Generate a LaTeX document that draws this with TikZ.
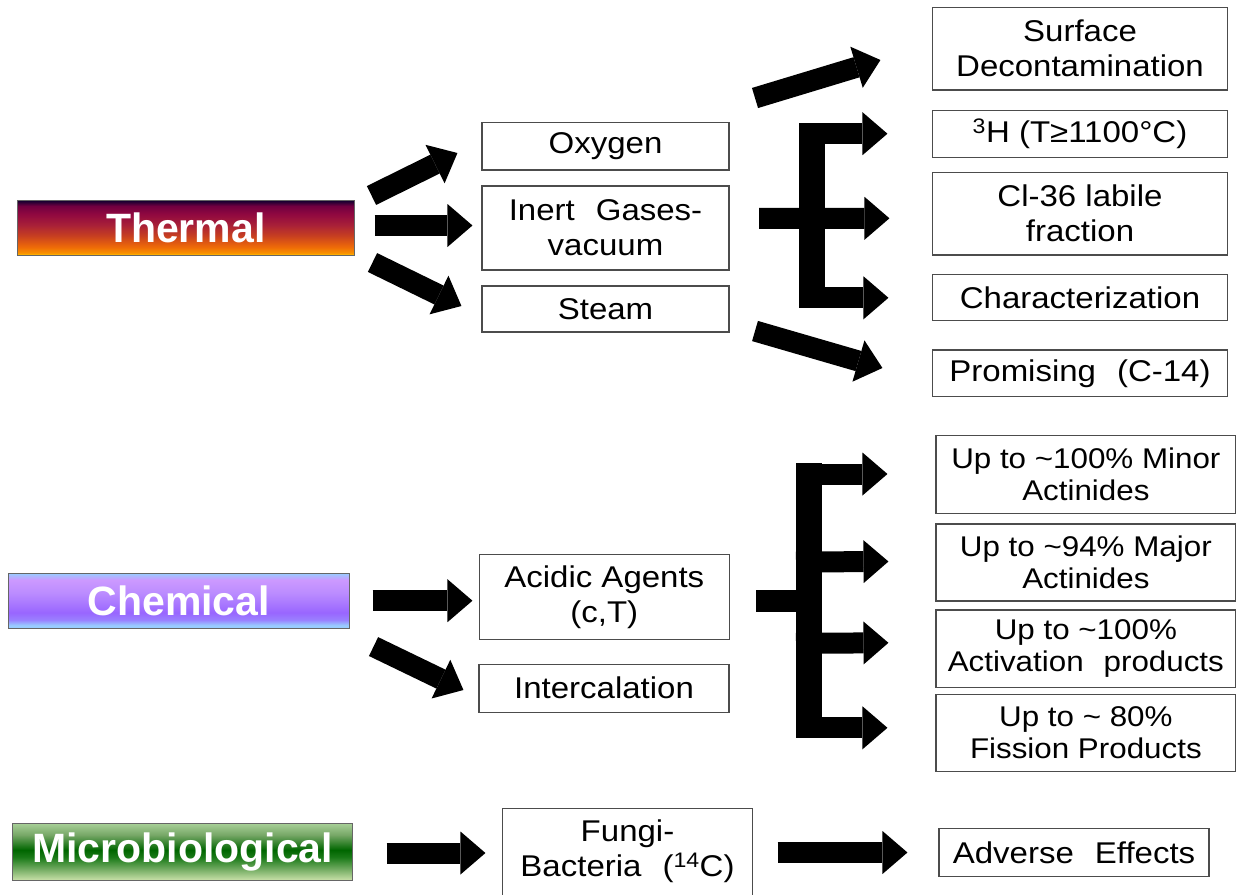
\documentclass[tikz,border=0pt]{standalone}
\usepackage{fontspec}
\setmainfont{Liberation Sans}[FakeStretch=1.1]
\newfontfamily\lblfont{Liberation Sans}
\usetikzlibrary{arrows.meta}

\definecolor{thA}{HTML}{FFC000}
\definecolor{thB}{HTML}{F89000}
\definecolor{thC}{HTML}{EE6A08}
\definecolor{thD}{HTML}{C84020}
\definecolor{thE}{HTML}{A82038}
\definecolor{thF}{HTML}{900840}
\definecolor{thG}{HTML}{700040}
\definecolor{thH}{HTML}{100030}
\pgfdeclareverticalshading{thermalsh}{100bp}{color(0bp)=(thA); color(25bp)=(thA); color(27bp)=(thB); color(32.5bp)=(thC); color(42.5bp)=(thD); color(52.5bp)=(thE); color(62.5bp)=(thF); color(70bp)=(thG); color(75bp)=(thH); color(100bp)=(thH)}

\definecolor{chA}{HTML}{99CCFF}
\definecolor{chB}{HTML}{9A80FF}
\definecolor{chC}{HTML}{9966FF}
\definecolor{chD}{HTML}{BB8CFF}
\definecolor{chE}{HTML}{CC99FF}
\pgfdeclareverticalshading{chemsh}{100bp}{color(0bp)=(chA); color(27.5bp)=(chA); color(32.5bp)=(chB); color(39bp)=(chC); color(57bp)=(chD); color(69bp)=(chE); color(75bp)=(chA); color(100bp)=(chA)}

\definecolor{miA}{HTML}{C8E0A8}
\definecolor{miB}{HTML}{70AA60}
\definecolor{miC}{HTML}{1A7A18}
\definecolor{miD}{HTML}{006600}
\definecolor{miE}{HTML}{78A868}
\definecolor{miF}{HTML}{A8D098}
\pgfdeclareverticalshading{microsh}{100bp}{color(0bp)=(miA); color(25bp)=(miA); color(35bp)=(miB); color(45bp)=(miC); color(51.5bp)=(miD); color(65bp)=(miE); color(75bp)=(miF); color(100bp)=(miF)}

\newcommand\ws{\hspace{0.7em}}

\tikzset{
  boxline/.style={draw=black!70, line width=1.1pt},
  box/.style={boxline, fill=white, inner sep=0pt, align=center,
    font=\fontsize{30}{35}\selectfont},
  smallbox/.style={box, font=\fontsize{28.5}{32}\selectfont},
  cat/.style={draw=black!60, line width=1pt, inner sep=0pt, text=white,
    font=\lblfont\bfseries\fontsize{41}{41}\selectfont},
  fat/.style={line width=21pt, -{Triangle[width=43pt,length=25pt,line width=0pt]}},
  bar/.style={line width=25.7pt},
}

\begin{document}
\begin{tikzpicture}[x=1pt, y=-1pt]
\useasboundingbox (0,0) rectangle (1238,894);

% category boxes
\node[cat, shading=thermalsh, minimum width=336.5pt, minimum height=54.5pt] (thermal) at (185.75,227.75) {Thermal};
\node[cat, shading=chemsh, minimum width=340.7pt, minimum height=54.7pt] (chemical) at (178.7,600.7) {Chemical};
\node[cat, shading=microsh, minimum width=340pt, minimum height=56.7pt] (micro) at (182.7,851.7) {Microbiological};

% middle column
\node[box, minimum width=247pt, minimum height=47.3pt] (oxy) at (605.5,146.35) {Oxygen};
\node[box, minimum width=247pt, minimum height=84pt] (inert) at (605.5,228) {Inert\ws Gases-\\vacuum};
\node[box, minimum width=247pt, minimum height=46pt] (steam) at (605.5,309) {Steam};
\node[box, minimum width=250pt, minimum height=85pt] (acid) at (604.3,596.8) {Acidic Agents\\(c,T)};
\node[box, minimum width=250pt, minimum height=48.3pt] (inter) at (604,688.2) {Intercalation};
\node[box, draw=none, minimum width=249.6pt, minimum height=83.7pt] (fungi) at (627.5,851.2) {Fungi-\\Bacteria\ws(\textsuperscript{14}C)};
\draw[boxline] ([yshift=-12pt]fungi.south west) -- (fungi.north west) -- (fungi.north east) -- ([yshift=-12pt]fungi.south east);

% right column (thermal)
\node[box, minimum width=295.4pt, minimum height=82.7pt] (surf) at (1080,48.65) {Surface\\Decontamination};
\node[box, minimum width=295.4pt, minimum height=46.6pt] (h3) at (1080,134) {\textsuperscript{3}H (T≥1100°C)};
\node[box, minimum width=295.4pt, minimum height=82.7pt] (cl) at (1080,213.65) {Cl-36 labile\\fraction};
\node[box, minimum width=295.4pt, minimum height=46pt] (char) at (1080,297.7) {Characterization};
\node[box, minimum width=295.4pt, minimum height=46.7pt] (prom) at (1080,373.35) {Promising\ws(C-14)};

% right column (chemical)
\node[smallbox, minimum width=299.7pt, minimum height=77.6pt] (minor) at (1085.85,474.5) {Up to \textasciitilde100\% Minor\\Actinides};
\node[smallbox, minimum width=299.7pt, minimum height=77pt] (major) at (1085.85,562.5) {Up to \textasciitilde94\% Major\\Actinides};
\node[smallbox, minimum width=299.7pt, minimum height=77.3pt] (act) at (1085.85,648.65) {Up to \textasciitilde100\%\\Activation\ws products};
\node[smallbox, minimum width=299.7pt, minimum height=77.4pt] (fis) at (1085.85,733) {Up to \textasciitilde\ 80\%\\Fission Products};

% microbiological result
\node[box, minimum width=270pt, minimum height=48.4pt] (adv) at (1074,852.5) {Adverse\ws Effects};

% thermal arrows
\draw[fat] ([shift={(17,-4.5)}]thermal.north east) -- ([shift={(-24,6.65)}]oxy.west);
\draw[fat] ([shift={(20,-2.25)}]thermal.east) -- ([shift={(-9,-2.5)}]inert.west);
\draw[fat] ([shift={(18,7)}]thermal.south east) -- ([shift={(-20,-3)}]steam.west);

\coordinate (sTail) at (755,98);
\coordinate (pTail) at (755,331);
\draw[fat] (sTail) -- ([shift={(-51.3,11.35)}]surf.west);
\draw[fat] (pTail) -- ([shift={(-49.3,-5.35)}]prom.west);

% thermal E-bracket
\coordinate (tbT) at (812,123.3);
\coordinate (tbB) at (812,308.3);
\draw[bar] (tbT) -- (tbB);
\coordinate (ta1) at (799,133.7);
\coordinate (tstub) at (759,218.3);
\coordinate (ta3) at (799,297.8);
\draw[fat] (ta1) -- ([shift={(-44.3,-0.3)}]h3.west);
\draw[fat] (tstub) -- ([shift={(-42.3,4.65)}]cl.west);
\draw[fat] (ta3) -- ([shift={(-43.3,0.1)}]char.west);

% chemical arrows
\draw[fat] ([shift={(23,0)}]chemical.east) -- ([shift={(-6.3,3.9)}]acid.west);
\draw[fat] ([shift={(24,18)}]chemical.south east) -- ([shift={(-15,1.8)}]inter.west);

% chemical E-bracket
\coordinate (cbT) at (808.85,463.3);
\coordinate (cbB) at (808.85,738.3);
\draw[bar] (cbT) -- (cbB);
\coordinate (cstub) at (756,600.5);
\coordinate (cstubEnd) at (805,600.5);
\draw[line width=22pt] (cstub) -- (cstubEnd);
\coordinate (ca1) at (796,474);
\coordinate (ca2) at (796,562);
\coordinate (ca3) at (796,643.3);
\coordinate (ca4) at (796,727.8);
\draw[fat] (ca1) -- ([shift={(-48,-0.5)}]minor.west);
\draw[fat] (ca2) -- ([shift={(-47,-1)}]major.west);
\draw[fat] (ca3) -- ([shift={(-47,-5.85)}]act.west);
\draw[fat] (ca4) -- ([shift={(-48,-5.2)}]fis.west);

% microbiological arrows
\draw[fat] ([shift={(33.3,1.3)}]micro.east) -- ([shift={(-16.7,1.8)}]fungi.west);
\draw[fat] ([shift={(24.7,1.3)}]fungi.east) -- ([shift={(-31,0)}]adv.west);
\end{tikzpicture}
\end{document}
